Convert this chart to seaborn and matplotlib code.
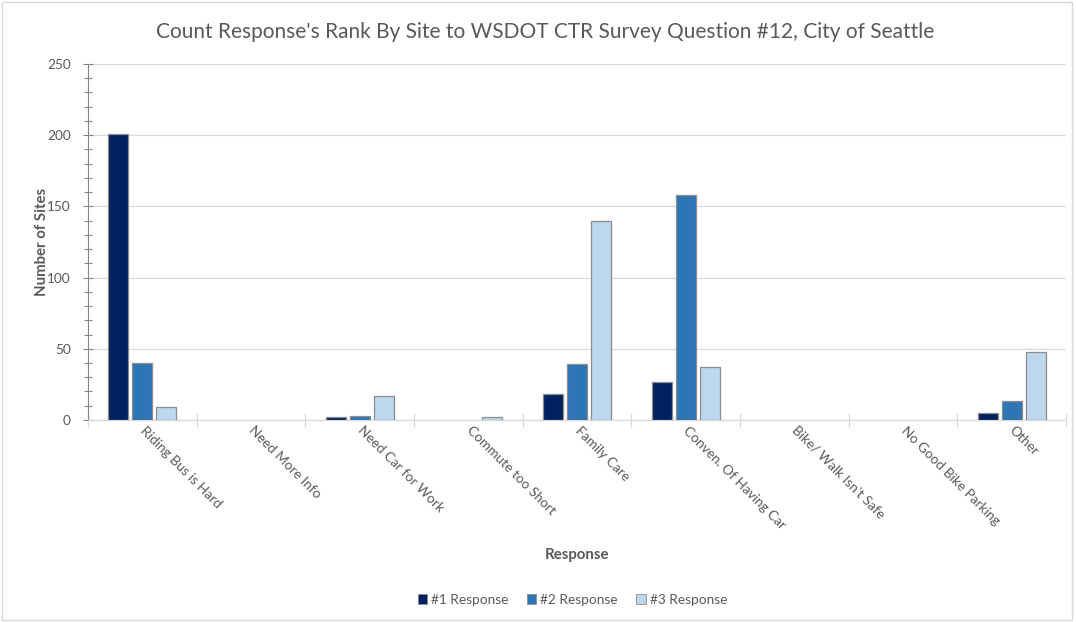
import matplotlib
matplotlib.use("Agg")
import matplotlib.pyplot as plt
from matplotlib.ticker import MultipleLocator, FixedLocator
from matplotlib.patches import Rectangle
import pandas as pd
import seaborn as sns

# Survey responses and the count of sites ranking each one #1, #2 or #3
responses = [
    "Riding Bus is Hard", "Need More Info", "Need Car for Work",
    "Commute too Short", "Family Care", "Conven. Of Having Car",
    "Bike/ Walk Isn't Safe", "No Good Bike Parking", "Other",
]
rank_1 = [201, 0, 2, 0, 18, 27, 0, 0, 5]
rank_2 = [40, 0, 3, 0, 39, 158, 0, 0, 13]
rank_3 = [9, 0, 17, 2, 140, 37, 0, 0, 48]
series_names = ["#1 Response", "#2 Response", "#3 Response"]
series_colors = ["#002060", "#2E75B6", "#BDD7EE"]

df = pd.DataFrame({
    "Response": responses * 3,
    "Sites": rank_1 + rank_2 + rank_3,
    "Rank": [s for s in series_names for _ in responses],
})

sns.set_theme(style="white")
plt.rcParams["font.family"] = ["Lato", "DejaVu Sans"]

text_gray = "#595959"
fig = plt.figure(figsize=(10.76, 6.22), dpi=100)
ax = fig.add_axes([0.0818, 0.3248, 0.9089, 0.5723])

sns.barplot(
    data=df, x="Response", y="Sites", hue="Rank",
    order=responses, hue_order=series_names,
    palette=series_colors, saturation=1,
    width=0.66, gap=0.167,
    edgecolor="#8c8c8c", linewidth=0.9,
    ax=ax, legend=False, zorder=3,
)
# empty categories show no outline
for bar in ax.patches:
    if bar.get_height() == 0:
        bar.set_linewidth(0)

ax.set_xlim(-0.5, len(responses) - 0.5)
ax.set_ylim(0, 250)

# y axis: major every 50 with gridlines, minor every 10
ax.yaxis.set_major_locator(MultipleLocator(50))
ax.yaxis.set_minor_locator(MultipleLocator(10))
ax.grid(axis="y", which="major", color="#d9d9d9", linewidth=0.9, zorder=0)
ax.tick_params(axis="y", which="both", direction="inout", left=True,
               color="#868686", width=0.8, labelsize=9.8,
               labelcolor=text_gray, pad=9)
ax.tick_params(axis="y", which="major", length=7)
ax.tick_params(axis="y", which="minor", length=6)

# x axis: labels at category centres, tick marks at category boundaries
ax.xaxis.set_minor_locator(FixedLocator([i - 0.5 for i in range(len(responses) + 1)]))
ax.tick_params(axis="x", which="major", length=0, bottom=True, labelsize=9.8,
               labelcolor=text_gray, pad=6)
ax.tick_params(axis="x", which="minor", direction="inout", length=10,
               bottom=True, color="#d9d9d9", width=0.9)
for lab in ax.get_xticklabels():
    lab.set_rotation(-45)
    lab.set_rotation_mode("anchor")
    lab.set_ha("left")
    lab.set_va("center")

for side in ("top", "right"):
    ax.spines[side].set_visible(False)
ax.spines["left"].set_color("#868686")
ax.spines["left"].set_linewidth(0.8)
ax.spines["bottom"].set_color("#d9d9d9")
ax.spines["bottom"].set_linewidth(0.9)

ax.set_xlabel("Response", fontsize=10.8, fontweight="bold", color=text_gray)
ax.xaxis.set_label_coords(0.5, -0.36)
ax.set_ylabel("Number of Sites", fontsize=10.8, fontweight="bold", color=text_gray)
ax.yaxis.set_label_coords(-0.040, 0.5)

fig.text(0.507, 0.949, "Count Response's Rank By Site to WSDOT CTR Survey Question #12, City of Seattle",
         ha="center", va="center", fontsize=15.0, color=text_gray)

handles = [Rectangle((0, 0), 1, 1, facecolor=c, edgecolor="#8c8c8c", linewidth=0.6)
           for c in series_colors]
fig.legend(handles, series_names, loc="center", bbox_to_anchor=(0.532, 0.0355),
           ncol=3, frameon=False, fontsize=9.8, labelcolor=text_gray,
           handlelength=0.7, handleheight=0.7, handletextpad=0.3,
           columnspacing=1.35)

# chart border
fig.add_artist(Rectangle((0.002, 0.004), 0.994, 0.992, transform=fig.transFigure,
                         fill=False, edgecolor="#d9d9d9", linewidth=1.0))

fig.savefig("out.png", dpi=100, facecolor="white")
